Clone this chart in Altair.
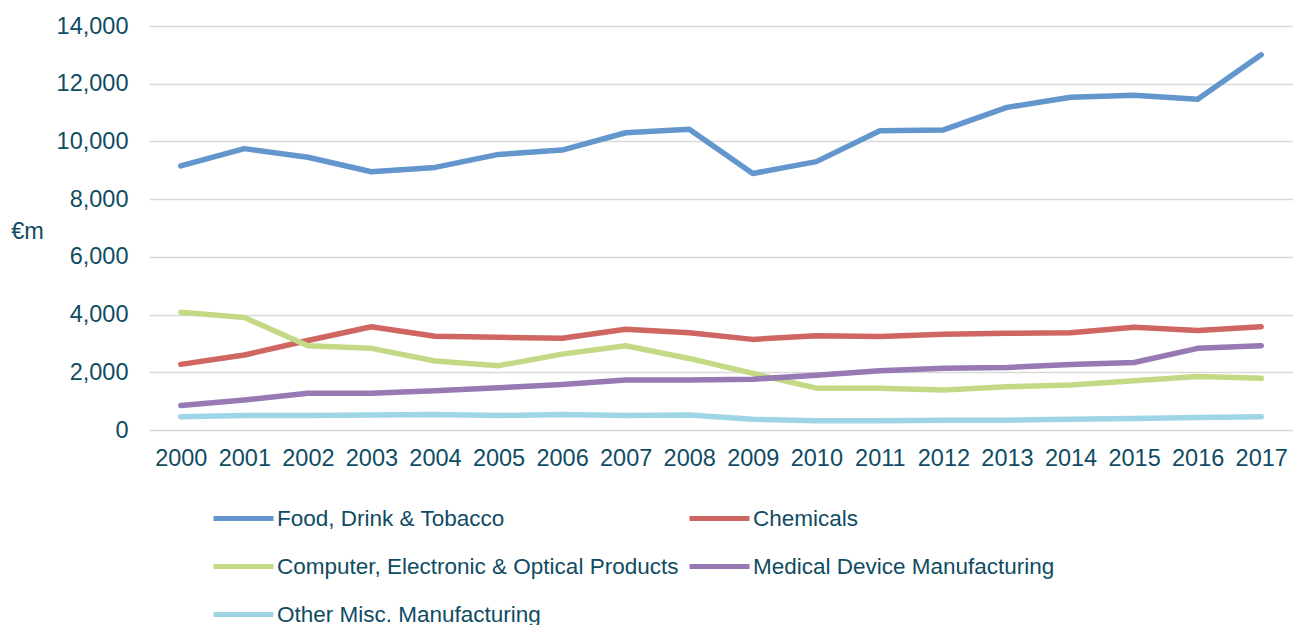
import altair as alt
import pandas as pd

years = [str(y) for y in range(2000, 2018)]

food = [9150, 9750, 9450, 8950, 9100, 9550, 9700, 10300, 10420, 8890, 9300,
        10370, 10400, 11180, 11530, 11600, 11460, 13000]
chemicals = [2275, 2600, 3100, 3580, 3250, 3210, 3180, 3490, 3370, 3140, 3270,
             3240, 3320, 3350, 3370, 3560, 3450, 3580]
computer = [4080, 3900, 2920, 2830, 2390, 2230, 2630, 2920, 2480, 1960, 1450,
            1450, 1390, 1500, 1560, 1710, 1850, 1790]
medical = [850, 1040, 1270, 1270, 1360, 1460, 1580, 1730, 1730, 1760, 1900,
           2050, 2140, 2170, 2270, 2340, 2830, 2920]
other = [460, 500, 500, 520, 540, 500, 540, 500, 520, 370, 320,
         320, 340, 340, 370, 400, 430, 460]

series_names = ["Food, Drink & Tobacco", "Chemicals",
                "Computer, Electronic & Optical Products",
                "Medical Device Manufacturing", "Other Misc. Manufacturing"]
series_values = [food, chemicals, computer, medical, other]
series_colors = ["#6396CC", "#CF6661", "#C4D985", "#9779B4", "#9ED6E7"]

rows = []
for name, vals in zip(series_names, series_values):
    for y, v in zip(years, vals):
        rows.append({"Year": y, "Value": v, "Series": name})
df = pd.DataFrame(rows)

TXT = "#0F4C63"
FONT = "Liberation Sans"

chart = alt.Chart(df).mark_line(strokeWidth=5.5, strokeCap="round", strokeJoin="round").encode(
    x=alt.X("Year:O", sort=years,
            scale=alt.Scale(type="point", padding=0.5),
            axis=alt.Axis(title=None, labelAngle=0, grid=False, domain=False, ticks=False,
                          labelPadding=16, labelFontSize=23.5, labelColor=TXT, labelFont=FONT)),
    y=alt.Y("Value:Q",
            scale=alt.Scale(domain=[0, 14000], nice=False),
            axis=alt.Axis(title="€m", values=list(range(0, 14001, 2000)), format=",.0f",
                          grid=True, gridColor="#D9D9D9", gridWidth=1.5,
                          domain=False, ticks=False, labelPadding=21,
                          labelFontSize=23.5, labelColor=TXT, labelFont=FONT,
                          titleAngle=0, titleX=-122, titleY=205, titleAlign="center",
                          titleBaseline="middle", titleFontSize=23.5, titleFontWeight="normal",
                          titleColor=TXT, titleFont=FONT)),
    color=alt.Color("Series:N", sort=series_names,
                    scale=alt.Scale(domain=series_names, range=series_colors),
                    legend=alt.Legend(title=None, orient="none", legendX=62, legendY=460,
                                      direction="horizontal",
                                      columns=2, columnPadding=0, rowPadding=4,
                                      symbolType="stroke", symbolSize=3600,
                                      symbolStrokeWidth=5, labelOffset=1,
                                      labelFontSize=22.5, labelColor=TXT, labelFont=FONT,
                                      labelLimit=0)),
).properties(
    width=1144, height=404,
    autosize=alt.AutoSizeParams(type="none"),
    padding={"left": 149, "top": 26, "right": 0, "bottom": 195},
    background="white",
).configure_view(stroke=None)

chart.save("out.html", embed_options={"renderer": "svg", "actions": False})
